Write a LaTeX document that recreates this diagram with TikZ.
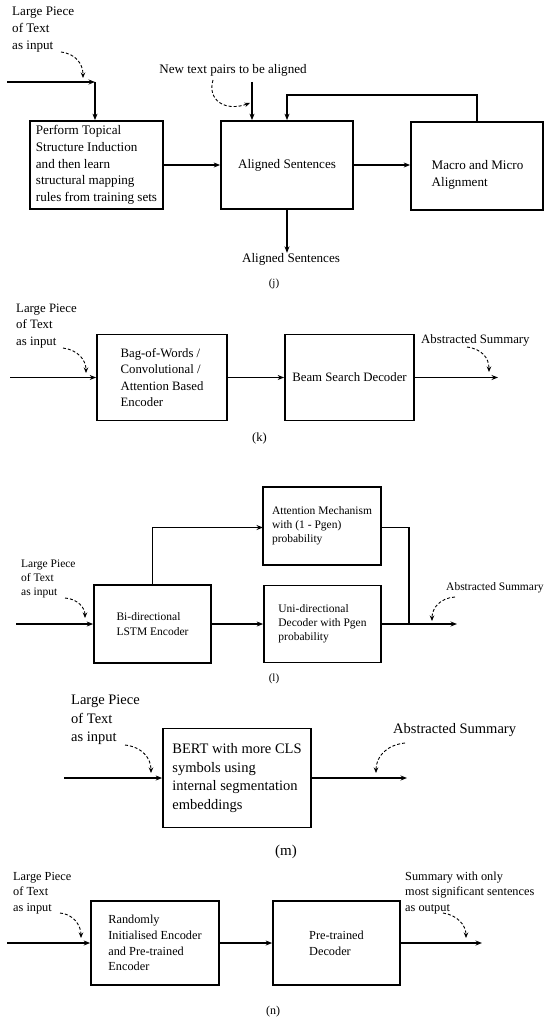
\documentclass[tikz,border=0pt]{standalone}
\usepackage{fontspec}
\setmainfont{Liberation Serif}
\usetikzlibrary{arrows.meta}
\begin{document}
\begin{tikzpicture}[x=1pt,y=-1pt,
  box/.style={draw,line width=1.7pt,align=left,inner sep=0pt},
  conn/.style={line width=1.1pt},
  arr/.style={line width=1.1pt,-{Stealth[length=6.5pt,width=5pt]}},
  darr/.style={line width=0.9pt,dash pattern=on 3pt off 2pt,-{Stealth[length=5.5pt,width=4.5pt]}},
  lbl/.style={align=left,anchor=west,inner sep=0pt},
  fj/.style={font=\fontsize{13.1}{16.6}\selectfont},
  fk/.style={font=\fontsize{12.8}{16.3}\selectfont},
  fl/.style={font=\fontsize{11.5}{14.2}\selectfont},
  fm/.style={font=\fontsize{14.5}{18.4}\selectfont},
  fn/.style={font=\fontsize{12.3}{15.7}\selectfont},
  captext/.style={inner sep=0pt}]
\useasboundingbox (0,0) rectangle (550,1022);
% ---------------- (j)
\node[lbl,fj] (jlab) at (12,29.5) {Large Piece\\of Text\\as input};
\node[box,fj,minimum width=133pt,minimum height=88pt] (j1) at (96.5,165) {Perform Topical\\Structure Induction\\and then learn\\structural mapping\\rules from training sets};
\node[box,fj,minimum width=132pt,minimum height=88pt] (j2) at (287,165) {Aligned Sentences};
\node[box,minimum width=132pt,minimum height=88pt] (j3) at (477,166) {};
\node[fj,align=left,inner sep=0pt] (j3t) at (477.5,175) {Macro and Micro\\Alignment};
\node[fj,inner sep=0pt] (jnewl) at (233,70) {New text pairs to be aligned};
\node[fj,inner sep=0pt] (jout) at (291,259) {Aligned Sentences};
\node[captext,font=\fontsize{11}{13}\selectfont] (jcap) at (274,284) {(j)};
\coordinate (jin) at (7,82);
\coordinate (jc) at (95,82);
\coordinate (jnew) at (252,82);
\coordinate (jtop) at (477,95);
\draw[arr] (jin) -- (jc);
\draw[arr] (jc) -- (jc |- j1.north);
\draw[arr] (jnew) -- (jnew |- j2.north);
\draw[arr] (j1.east) -- (j1.east -| j2.west);
\draw[arr] (j2.east) -- (j2.east -| j3.west);
\draw[arr] (j3.north) -- (jtop) -| (j2.north);
\draw[arr] (j2.south) -- (j2.south |- jout.north);
\draw[darr] (61,52) .. controls (76,54) and (83,64) .. (83,78);
\draw[darr] (213,80) .. controls (207,100) and (225,112) .. (250,103);
% ---------------- (k)
\node[lbl,fk] (klab) at (16,326) {Large Piece\\of Text\\as input};
\node[box,fk,minimum width=130pt,minimum height=86pt] (k1) at (162,377.5) {Bag-of-Words /\\Convolutional /\\Attention Based\\Encoder};
\node[box,fk,minimum width=129pt,minimum height=86pt] (k2) at (349.5,377.5) {Beam Search Decoder};
\node[lbl,fk] (kabs) at (421,340) {Abstracted Summary};
\node[captext,font=\fontsize{12.5}{14}\selectfont] (kcap) at (259.5,438) {(k)};
\coordinate (kin) at (10,377.5);
\coordinate (kout) at (498,377.5);
\draw[arr] (kin) -- (k1);
\draw[arr] (k1) -- (k2);
\draw[arr] (k2) -- (kout);
\draw[darr] (63,348) .. controls (78,350) and (86,360) .. (86,373);
\draw[darr] (467,347) .. controls (482,349) and (489,358) .. (489,372);
% ---------------- (l)
\node[lbl,fl] (llab) at (21,579) {Large Piece\\of Text\\as input};
\node[box,fl,minimum width=118pt,minimum height=78pt] (la) at (322,526) {Attention Mechanism\\with (1 - Pgen)\\probability};
\node[box,fl,minimum width=117pt,minimum height=78pt] (lb) at (152.5,624) {Bi-directional\\LSTM Encoder};
\node[box,fl,minimum width=117pt,minimum height=77pt] (lu) at (322.5,624) {Uni-directional\\Decoder with Pgen\\probability};
\node[lbl,fl] (labs) at (446,588) {Abstracted Summary};
\node[captext,font=\fontsize{11}{13}\selectfont] (lcap) at (274,679) {(l)};
\coordinate (lin) at (16,624);
\coordinate (lat) at (263,527.5);
\coordinate (lar) at (381,527.5);
\coordinate (ljoin) at (409,624);
\coordinate (lout) at (457,624);
\draw[arr] (lin) -- (lb);
\draw[arr] (lb) -- (lu);
\draw[arr] (lb.north) |- (lat);
\draw[conn] (lar) -| (ljoin);
\draw[arr] (lu) -- (lout);
\draw[darr] (65,598) .. controls (78,599) and (85,608) .. (85,618);
\draw[darr] (455,597) .. controls (440,598) and (432,608) .. (432,621);
% ---------------- (m)
\node[lbl,fm] (mlab) at (71,720) {Large Piece\\of Text\\as input};
\node[box,fm,minimum width=148pt,minimum height=99pt] (m1) at (237,778) {BERT with more CLS\\symbols using\\internal segmentation\\embeddings};
\node[lbl,fm] (mabs) at (393,730) {Abstracted Summary};
\node[captext,font=\fontsize{15}{17}\selectfont] (mcap) at (286,852) {(m)};
\coordinate (min) at (64,778);
\coordinate (mout) at (407,778);
\draw[arr] (min) -- (m1);
\draw[arr] (m1) -- (mout);
\draw[darr] (125,745) .. controls (142,747) and (151,758) .. (151,773);
\draw[darr] (405,743) .. controls (386,745) and (376,757) .. (376,773);
% ---------------- (n)
\node[lbl,fn] (nlab) at (13,893) {Large Piece\\of Text\\as input};
\node[box,fn,minimum width=128pt,minimum height=84pt] (n1) at (155,943) {Randomly\\Initialised Encoder\\and Pre-trained\\Encoder};
\node[box,fn,minimum width=127pt,minimum height=84pt] (n2) at (336.5,943) {Pre-trained\\Decoder};
\node[lbl,fn] (nabs) at (405,893) {Summary with only\\most significant sentences\\as output};
\node[captext,font=\fontsize{12}{14}\selectfont] (ncap) at (273,1012) {(n)};
\coordinate (nin) at (7,943);
\coordinate (nout) at (482,943);
\draw[arr] (nin) -- (n1);
\draw[arr] (n1) -- (n2);
\draw[arr] (n2) -- (nout);
\draw[darr] (60,913) .. controls (73,914) and (81,925) .. (81,938);
\draw[darr] (443,913) .. controls (457,915) and (466,925) .. (466,938);
\end{tikzpicture}
\end{document}
